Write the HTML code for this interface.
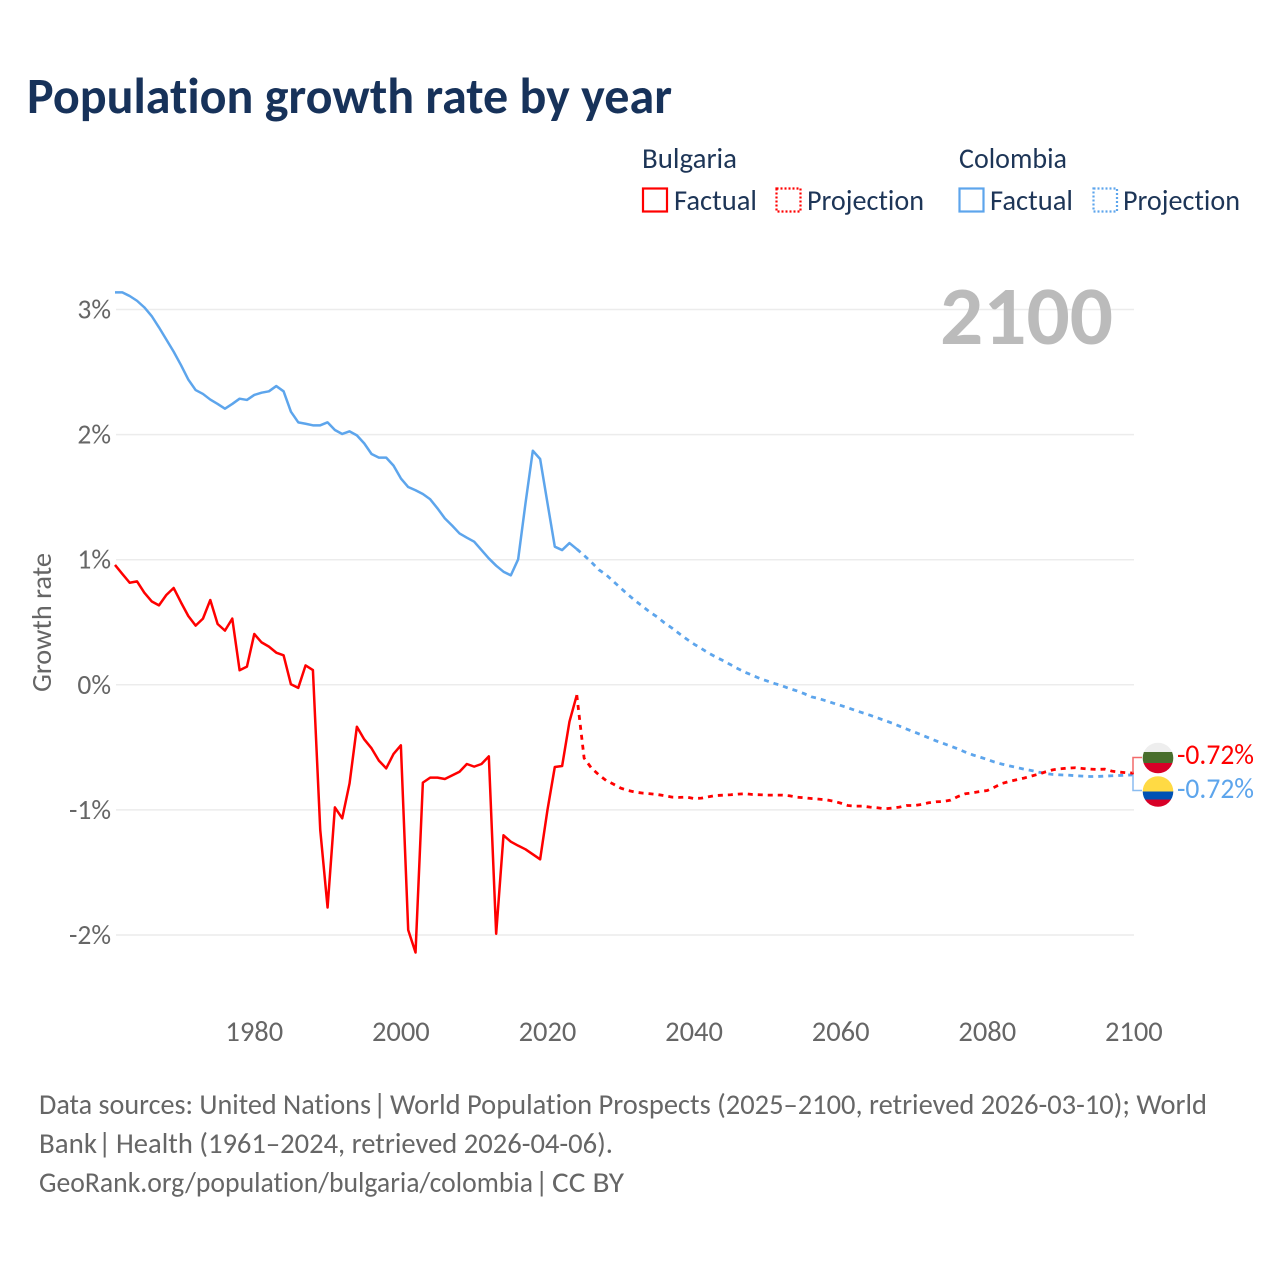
<!DOCTYPE html>
<html lang="en">
<head>
<meta charset="utf-8">
<title>Population growth rate by year</title>
<style>
html,body{margin:0;padding:0;background:#fff;}
svg{display:block;font-family:"Carlito","Lato","Liberation Sans",sans-serif;font-variant-ligatures:none;}
</style>
</head>
<body>
<svg id="chart" xmlns="http://www.w3.org/2000/svg" width="1280" height="1280" viewBox="0 0 1280 1280">
  <rect x="0" y="0" width="1280" height="1280" fill="#fff"/>
  <text x="27" y="113" font-size="51" font-weight="700" fill="#17325a" textLength="645" lengthAdjust="spacingAndGlyphs">Population growth rate by year</text>

  <g font-size="28.5" fill="#1d3557">
    <text x="642" y="168" textLength="95" lengthAdjust="spacingAndGlyphs">Bulgaria</text>
    <text x="959" y="168" textLength="108" lengthAdjust="spacingAndGlyphs">Colombia</text>
    <rect x="643" y="188.500" width="24" height="23" fill="none" stroke="#ff0000" stroke-width="2.2"/>
    <text x="674" y="210" textLength="83" lengthAdjust="spacingAndGlyphs">Factual</text>
    <rect x="776.500" y="188.500" width="24" height="23" fill="none" stroke="#ff0000" stroke-width="2.2" stroke-dasharray="2 2"/>
    <text x="807" y="210" textLength="117" lengthAdjust="spacingAndGlyphs">Projection</text>
    <rect x="959.500" y="188.500" width="24" height="23" fill="none" stroke="#5da5ec" stroke-width="2.2"/>
    <text x="990" y="210" textLength="83" lengthAdjust="spacingAndGlyphs">Factual</text>
    <rect x="1093.500" y="188.500" width="23.500" height="23" fill="none" stroke="#5da5ec" stroke-width="2.2" stroke-dasharray="2 2"/>
    <text x="1123" y="210" textLength="117" lengthAdjust="spacingAndGlyphs">Projection</text>
  </g>

  <g id="grid"></g>
  <g id="yticks" font-size="27.5" fill="#666"></g>
  <g id="xticks" font-size="28.5" fill="#666"></g>
  <text transform="translate(51,622.5) rotate(-90)" text-anchor="middle" font-size="28" fill="#666" textLength="139" lengthAdjust="spacingAndGlyphs">Growth rate</text>
  <text x="940" y="344" font-size="83" font-weight="700" fill="#bbbbbb" textLength="173" lengthAdjust="spacingAndGlyphs">2100</text>

  <g id="series" fill="none" stroke-linejoin="round"></g>

  <g fill="none" stroke-width="1.5">
    <path d="M1133 773V757.500H1142" stroke="#f26a6a"/>
    <path d="M1133 775V790.500H1142" stroke="#8abcf0"/>
  </g>

  <defs>
    <clipPath id="clip-bg"><circle cx="1158" cy="758" r="15.3"/></clipPath>
    <clipPath id="clip-co"><circle cx="1158" cy="791.500" r="15.3"/></clipPath>
  </defs>
  <g clip-path="url(#clip-bg)">
    <rect x="1142" y="742" width="32" height="10" fill="#eeeeee"/>
    <rect x="1142" y="752" width="32" height="11" fill="#496e2d"/>
    <rect x="1142" y="763" width="32" height="11" fill="#d80027"/>
  </g>
  <g clip-path="url(#clip-co)">
    <rect x="1142" y="776" width="32" height="15.500" fill="#ffda44"/>
    <rect x="1142" y="791.500" width="32" height="8" fill="#0052b4"/>
    <rect x="1142" y="799.500" width="32" height="8" fill="#d80027"/>
  </g>
  <text x="1177" y="764" font-size="28.5" fill="#ff0000" textLength="77" lengthAdjust="spacingAndGlyphs">-0.72%</text>
  <text x="1177" y="798" font-size="28.5" fill="#5da5ec" textLength="77" lengthAdjust="spacingAndGlyphs">-0.72%</text>

  <g font-size="29" fill="#666">
    <text x="39" y="1114" textLength="332" lengthAdjust="spacingAndGlyphs">Data sources: United Nations</text>
    <text x="373" y="1114">|</text>
    <text x="390" y="1114" textLength="817" lengthAdjust="spacingAndGlyphs">World Population Prospects (2025–2100, retrieved 2026-03-10); World</text>
    <text x="39" y="1153" textLength="58" lengthAdjust="spacingAndGlyphs">Bank</text>
    <text x="98" y="1153">|</text>
    <text x="116" y="1153" textLength="497" lengthAdjust="spacingAndGlyphs">Health (1961–2024, retrieved 2026-04-06).</text>
    <text x="39" y="1192" textLength="494" lengthAdjust="spacingAndGlyphs">GeoRank.org/population/bulgaria/colombia</text>
    <text x="535" y="1192">|</text>
    <text x="552" y="1192" textLength="72" lengthAdjust="spacingAndGlyphs">CC BY</text>
  </g>
</svg>

<script>
const firstFactualYear = 1961;
const firstProjectionYear = 2025;
const yTickValues = [3, 2, 1, 0, -1, -2];
const yTickLabels = ["3%", "2%", "1%", "0%", "-1%", "-2%"];
const xTickValues = [1980, 2000, 2020, 2040, 2060, 2080, 2100];
const xTickLabels = ["1980", "2000", "2020", "2040", "2060", "2080", "2100"];

const bulgariaFactual = [
  0.958, 0.886, 0.816, 0.827, 0.736, 0.667, 0.635, 0.718, 0.774, 0.659,
  0.55, 0.473, 0.529, 0.678, 0.486, 0.433, 0.529, 0.116, 0.145, 0.406,
  0.339, 0.305, 0.257, 0.236, 0.004, -0.025, 0.155, 0.118, -1.16, -1.78,
  -0.98, -1.067, -0.788, -0.335, -0.436, -0.508, -0.606, -0.668, -0.553, -0.484,
  -1.96, -2.14, -0.782, -0.742, -0.742, -0.753, -0.724, -0.695, -0.633, -0.654,
  -0.633, -0.572, -1.99, -1.203, -1.254, -1.286, -1.315, -1.355, -1.395, -1.0,
  -0.657, -0.649, -0.295, -0.082
];
const colombiaFactual = [
  3.137, 3.137, 3.108, 3.07, 3.017, 2.948, 2.857, 2.76, 2.663, 2.556,
  2.44, 2.356, 2.325, 2.28, 2.245, 2.207, 2.245, 2.287, 2.277, 2.317,
  2.335, 2.346, 2.388, 2.346, 2.183, 2.098, 2.087, 2.074, 2.074, 2.098,
  2.037, 2.005, 2.026, 1.994, 1.93, 1.845, 1.816, 1.816, 1.752, 1.65,
  1.581, 1.555, 1.525, 1.483, 1.41, 1.33, 1.272, 1.21, 1.176, 1.144,
  1.077, 1.01, 0.952, 0.904, 0.875, 1.003, 1.45, 1.871, 1.805, 1.453,
  1.104, 1.077, 1.133, 1.085
];
const bulgariaProjection = [
  -0.586, -0.666, -0.719, -0.765, -0.794, -0.826, -0.845, -0.858, -0.866, -0.871,
  -0.877, -0.887, -0.898, -0.9, -0.898, -0.909, -0.906, -0.895, -0.885, -0.882,
  -0.879, -0.874, -0.871, -0.877, -0.879, -0.882, -0.882, -0.882, -0.887, -0.898,
  -0.903, -0.909, -0.914, -0.919, -0.93, -0.946, -0.965, -0.97, -0.97, -0.978,
  -0.983, -0.991, -0.986, -0.978, -0.965, -0.965, -0.957, -0.943, -0.935, -0.933,
  -0.922, -0.893, -0.871, -0.863, -0.853, -0.845, -0.818, -0.789, -0.773, -0.759,
  -0.746, -0.73, -0.714, -0.695, -0.679, -0.671, -0.666, -0.663, -0.669, -0.674,
  -0.677, -0.674, -0.69, -0.698, -0.703, -0.706
];
const colombiaProjection = [
  1.034, 0.98, 0.92, 0.88, 0.826, 0.773, 0.72, 0.671, 0.626, 0.58,
  0.541, 0.493, 0.453, 0.408, 0.365, 0.325, 0.29, 0.253, 0.221, 0.192,
  0.16, 0.128, 0.099, 0.075, 0.05, 0.03, 0.01, -0.008, -0.03, -0.048,
  -0.07, -0.096, -0.11, -0.128, -0.147, -0.165, -0.184, -0.205, -0.224, -0.243,
  -0.264, -0.285, -0.306, -0.33, -0.354, -0.376, -0.4, -0.424, -0.448, -0.469,
  -0.49, -0.512, -0.538, -0.56, -0.578, -0.597, -0.618, -0.634, -0.648, -0.661,
  -0.674, -0.685, -0.698, -0.709, -0.717, -0.72, -0.722, -0.727, -0.73, -0.733,
  -0.733, -0.73, -0.727, -0.725, -0.722, -0.72
];

const SVG_NS = "http://www.w3.org/2000/svg";
const xScale = function (year) { return 115 + (year - 1961) * 7.33; };
const yScale = function (value) { return 684.8 - value * 125.1; };

function makeSvg(tag) { return document.createElementNS(SVG_NS, tag); }

const gridGroup = document.getElementById("grid");
const yTickGroup = document.getElementById("yticks");
yTickValues.forEach(function (value, i) {
  const line = makeSvg("line");
  
  
  line.setAttribute("x1", 116);
  line.setAttribute("x2", 1134);
  line.setAttribute("y1", yScale(value));
  line.setAttribute("y2", yScale(value));
  line.setAttribute("stroke", "#ececec");
  line.setAttribute("stroke-width", "1.5");
  gridGroup.appendChild(line);

  const label = makeSvg("text");
  
  
  label.setAttribute("x", 111);
  label.setAttribute("y", yScale(value) + 9);
  label.setAttribute("text-anchor", "end");
  label.textContent = yTickLabels[i];
  yTickGroup.appendChild(label);
});

const xTickGroup = document.getElementById("xticks");
xTickValues.forEach(function (year, i) {
  const label = makeSvg("text");
  
  
  label.setAttribute("x", xScale(year));
  label.setAttribute("y", 1041);
  label.setAttribute("text-anchor", "middle");
  label.textContent = xTickLabels[i];
  xTickGroup.appendChild(label);
});

function linePath(startYear, values) {
  return values.map(function (v, i) {
    return (i === 0 ? "M" : "L") + xScale(startYear + i).toFixed(2) + " " + yScale(v).toFixed(2);
  }).join("");
}

const seriesGroup = document.getElementById("series");

const colombiaDash = makeSvg("path");


colombiaDash.setAttribute("d", linePath(firstProjectionYear - 1, colombiaFactual.slice(-1).concat(colombiaProjection)));
colombiaDash.setAttribute("stroke", "#5da5ec");
colombiaDash.setAttribute("stroke-width", "2.8");
colombiaDash.setAttribute("stroke-dasharray", "5 5");
seriesGroup.appendChild(colombiaDash);

const colombiaLine = makeSvg("path");


colombiaLine.setAttribute("d", linePath(firstFactualYear, colombiaFactual));
colombiaLine.setAttribute("stroke", "#5da5ec");
colombiaLine.setAttribute("stroke-width", "2.5");
seriesGroup.appendChild(colombiaLine);

const bulgariaDash = makeSvg("path");


bulgariaDash.setAttribute("d", linePath(firstProjectionYear - 1, bulgariaFactual.slice(-1).concat(bulgariaProjection)));
bulgariaDash.setAttribute("stroke", "#ff0000");
bulgariaDash.setAttribute("stroke-width", "2.8");
bulgariaDash.setAttribute("stroke-dasharray", "5 5");
seriesGroup.appendChild(bulgariaDash);

const bulgariaLine = makeSvg("path");


bulgariaLine.setAttribute("d", linePath(firstFactualYear, bulgariaFactual));
bulgariaLine.setAttribute("stroke", "#ff0000");
bulgariaLine.setAttribute("stroke-width", "2.5");
seriesGroup.appendChild(bulgariaLine);
</script>
</body>
</html>
